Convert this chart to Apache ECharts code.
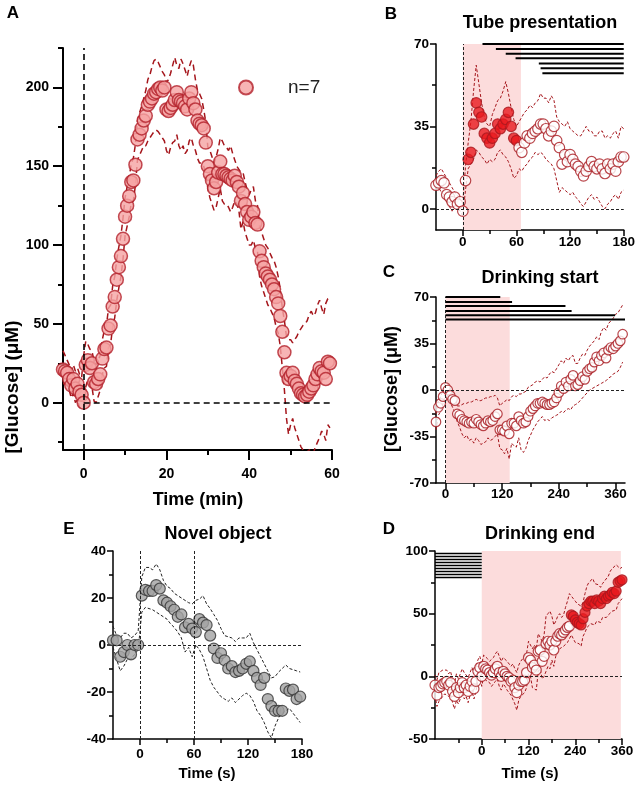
<!DOCTYPE html>
<html><head><meta charset="utf-8">
<script src="https://cdn.jsdelivr.net/npm/echarts@6/dist/echarts.min.js"></script>
<style>html,body{margin:0;padding:0;background:#fff}#c{width:638px;height:785px}</style>
</head><body><div id="c"></div>
<script>
// ---------------- DATA ----------------
// Panel A : time (min) sampled every 0.5 min from -5
const aStart = -5, aStep = 0.5;
const aMean = [21,20,19,15,11,15,9,12,7,5,
  0,24,27,22,25,13,12,15,18,28,
  34,35,47,49,61,67,78,86,93,104,
  118,125,131,140,141,151,167,170,174,179,
  182,189,191,193,196,197,199,200,198,200,
  186,185,187,189,192,197,192,191,190,188,
  186,193,197,190,186,179,177,176,174,165,
  150,145,141,136,140,146,153,145,145,144,
  143,142,141,144,140,137,128,133,126,121,
  116,118,121,114,113,96,90,86,82,80,
  78,75,72,67,63,55,45,32,19,15,
  17,19,14,12,9,6,5,4,5,7,
  9,11,15,18,22,20,19,15,26,25];
const aUpper = [33,30,27,24,20,24,20,22,18,16,
  30,39,37,34,33,26,24,27,30,40,
  46,49,60,62,74,80,91,99,106,117,
  130,137,143,152,155,164,179,184,188,193,
  198,205,208,213,217,218,216,213,210,208,
  203,205,209,214,219,214,212,218,215,211,
  207,213,217,214,205,198,196,193,186,178,
  162,160,156,152,156,161,168,166,163,162,
  160,163,158,154,150,148,146,146,140,135,
  132,135,137,128,125,112,108,104,100,98,
  95,92,90,86,80,72,60,52,42,40,
  40,38,40,42,45,47,49,50,52,56,
  58,55,57,62,65,60,56,63,66,67];
const aLower = [12,12,11,8,3,6,0,2,-3,-4,
  -3,10,15,12,10,1,0,4,8,18,
  22,23,35,37,48,54,65,73,80,91,
  106,112,118,127,128,138,154,157,160,163,
  163,166,168,170,172,173,172,170,168,166,
  160,157,162,165,166,170,163,160,163,158,
  160,166,168,163,160,155,152,152,150,145,
  136,130,126,122,124,130,136,128,126,126,
  124,121,124,128,126,122,110,115,108,104,
  100,100,103,98,96,80,74,70,66,62,
  60,57,54,48,44,36,22,8,-10,-20,
  -14,-10,-16,-20,-24,-28,-30,-32,-31,-30,
  -30,-32,-28,-25,-22,-18,-20,-24,-14,-16];
const aXTicks = [0,20,40,60], aXMinor = [10,30,50];
const aYTicks = [0,50,100,150,200], aYMinor = [-25,25,75,125,175,225];

// Panel B : Tube presentation, every 3 s from -30
const bStart = -30, bStep = 3;
const bMean = [10,11,12,11,6,5,3,5,2,3,
  -1,12,21,24,36,45,41,39,32,30,
  28,30,32,36,34,36,38,41,35,30,
  29,26,24,28,31,30,32,33,34,36,
  36,34,31,33,35,29,26,19,23,20,
  23,21,19,18,16,14,16,18,20,18,
  17,19,17,15,19,17,19,16,20,22,
  22];
const bUpper = [14,16,17,15,13,11,9,7,6,4,
  3,18,28,37,50,61,53,45,39,36,
  35,40,43,46,47,50,54,49,43,38,
  35,37,39,41,42,44,43,45,46,49,
  47,47,45,48,46,39,37,36,35,37,
  34,33,32,31,31,33,35,33,33,31,
  31,33,33,30,31,30,32,33,30,35,
  34];
const bLower = [10,9,7,6,3,1,-1,2,1,-1,
  -3,8,17,19,21,25,24,22,21,19,
  21,20,21,24,25,23,22,20,17,13,
  14,17,16,18,19,21,22,24,23,24,
  23,21,20,19,17,12,7,9,8,7,
  6,7,5,4,2,1,3,5,6,4,
  5,3,1,0,2,3,5,6,4,7,
  8];
const bSig = [6, 60];            // filled (significant) points
const bShade = [0, 65];          // tube period
const bBarStart = [22,37,48,59,85,87,89];
const bBarLevel = [70,67.9,65.9,63.9,61.7,59.7,57.6];
const bBarEnd = 180;
const bXTicks = [0,60,120,180], bXMinor = [30,90,150];
const bYTicks = [0,35,70], bYMinor = [17.5,52.5];

// Panel C : Drinking start, every 5 s from -20
const cStart = -20, cStep = 5;
const cMean = [-24,-13,-10,-5,2,0,-4,-7,-8,-18,
  -19,-22,-23,-24,-25,-24,-25,-22,-24,-26,
  -27,-25,-23,-24,-23,-20,-18,-30,-30,-31,
  -27,-33,-25,-25,-27,-20,-23,-25,-24,-20,
  -16,-14,-12,-10,-10,-9,-10,-11,-11,-10,
  -9,-6,-2,3,1,6,3,8,11,3,
  4,7,10,8,14,16,17,21,25,22,
  26,28,24,30,32,31,33,35,37,42];
const cUpper = [-18,-8,-5,0,6,4,1,-2,-5,-12,
  -12,-11,-10,-10,-9,-9,-8,-7,-8,-8,
  -7,-6,-6,-5,-5,-4,-6,-12,-10,-9,
  -7,-8,-5,-4,-5,-3,-3,-2,-1,2,
  3,4,6,7,6,8,10,9,12,14,
  13,16,19,22,20,24,22,25,26,20,
  20,24,27,26,30,33,35,37,40,38,
  44,47,45,50,52,54,57,58,61,64];
const cLower = [-30,-19,-16,-10,-3,-5,-9,-13,-17,-24,
  -28,-33,-36,-34,-38,-37,-40,-36,-38,-41,
  -40,-39,-36,-38,-37,-35,-33,-44,-45,-48,
  -44,-52,-40,-42,-43,-36,-45,-47,-44,-38,
  -34,-30,-27,-24,-22,-20,-23,-22,-23,-21,
  -20,-19,-18,-16,-17,-15,-14,-15,-12,-11,
  -10,-8,-6,-4,-2,0,1,2,3,4,
  5,6,7,9,10,12,13,14,17,21];
const cShade = [0, 136];
const cBarStart = 0;
const cBarEnd = [116,141,254,267,359,380];
const cBarLevel = [70,66.3,63.3,59.5,56.3,53];
const cXTicks = [0,120,240,360], cXMinor = [60,180,300];
const cYTicks = [-70,-35,0,35,70], cYMinor = [-52.5,-17.5,17.5,52.5];

// Panel D : Drinking end, every 5 s from -120
const dStart = -120, dStep = 5;
const dMean = [-7,-15,-9,-8,-6,-5,-4,-7,-5,-12,
  -16,-9,-13,-9,-5,-9,-7,-12,-8,-4,
  -10,-4,4,7,0,8,6,5,3,1,
  3,6,8,3,0,4,2,0,-1,-4,
  -3,-9,-13,-7,-4,-4,-3,3,15,13,
  7,9,5,20,21,12,16,26,28,25,
  28,21,28,32,34,33,35,37,39,40,
  49,48,45,43,42,41,46,51,56,58,
  60,60,58,61,60,58,62,64,62,64,
  65,67,66,68,75,76,77];
const dUpper = [1,-3,3,4,5,6,5,2,4,-3,
  -6,2,-2,2,6,3,4,-1,3,7,
  2,7,13,16,10,17,16,14,12,13,
  15,18,20,16,12,15,14,12,11,8,
  10,6,3,9,12,14,14,18,28,27,
  22,25,22,34,35,28,33,48,50,52,
  48,41,44,48,50,47,49,55,60,66,
  64,62,60,58,57,56,59,66,72,75,
  76,78,74,74,73,71,74,76,75,80,
  84,86,87,89,90,86,87];
const dLower = [-15,-24,-20,-18,-16,-14,-13,-16,-14,-21,
  -26,-19,-22,-18,-13,-18,-16,-21,-15,-12,
  -18,-12,-4,-1,-8,0,-3,-4,-5,-8,
  -7,-4,-2,-8,-11,-6,-8,-11,-12,-15,
  -15,-22,-27,-19,-16,-15,-13,-9,2,0,
  -9,-8,-11,4,6,-2,0,4,8,6,
  13,8,16,20,22,21,24,25,27,28,
  33,33,27,26,26,24,32,35,39,40,
  42,42,41,44,45,43,47,48,47,49,
  50,52,51,53,58,60,62];
const dSigFrom = 230;
const dShade = [0, 357];
const dBarStart = -120, dBarEnd = 0;
const dBarLevel = [98,95.6,93.2,90.8,88.4,86,83.6,81.2,78.8];
const dXTicks = [0,120,240,360], dXMinor = [-60,60,180,300];
const dYTicks = [-50,0,50,100], dYMinor = [-25,25,75];

// Panel E : Novel object, every 4 s from -30
const eStart = -30, eStep = 4;
const eMean = [2,2,-5,-3,0,-4,0,0,21,23.5,
  23,23,25.5,24,19,18,16.5,15,12,13,
  7.5,9,7,5.5,11,9.5,8.5,4,-1.5,-5.5,
  -3.5,-6.5,-10,-9,-11.5,-11,-10,-8,-7,-11,
  -14,-17,-14,-23,-26,-28,-28,-28,-18.5,-19.5,
  -19,-23,-22];
const eUpper = [8,4,3,5,5,3,4,6,29,33,
  33,32,34.5,32,27.5,25,24,22,21,20,
  19,18,17.5,19,19.5,21,17.5,15.5,13,10.5,
  7,4,3.5,3,1.5,3,3,3,5,1,
  -2,-5,-8,-11,-14,-13.5,-11.5,-10,-8.5,-10,
  -10.5,-11,-11.5];
const eLower = [-1,-6,-11,-9,-6,-6,-4,-2,14,16,
  15.5,15,14,13,12,11,9,7.5,5.5,3,
  -3,-1,-5,0,-2,-5,-10,-15,-18,-20,
  -22,-23,-24,-22.5,-24.5,-23,-21.5,-20.5,-21.5,-24,
  -28,-30,-33,-37,-39.5,-34.5,-31,-29,-28,-27,
  -29,-31,-33];
const eXTicks = [0,60,120,180], eXMinor = [30,90,150];
const eYTicks = [-40,-20,0,20,40], eYMinor = [-30,-10,10,30];

// ---------------- HELPERS ----------------
const FONT = "'Liberation Sans', Arial, sans-serif";
const PINK = '#fcdcdc';
const RED_EDGE = '#a8181e';
const SEM_RED = '#a5161c';
function times(start, step, n){ const t=[]; for(let i=0;i<n;i++) t.push(+(start+i*step).toFixed(3)); return t; }
function pairs(ts, vs){ return vs.map((v,i)=>[ts[i], v]); }

const aT = times(aStart, aStep, aMean.length);
const bT = times(bStart, bStep, bMean.length);
const cT = times(cStart, cStep, cMean.length);
const dT = times(dStart, dStep, dMean.length);
const eT = times(eStart, eStep, eMean.length);

const panels = [
  {grid:{left:63, top:48, width:269, height:402}, x:[-5,60], y:[-30,225], xt:aXTicks, xm:aXMinor, yt:aYTicks, ym:aYMinor, maj:10, min:5, lw:2, fs:14, xMar:17, yMar:14},
  {grid:{left:436, top:44, width:189, height:186}, x:[-30,180], y:[-9,70], xt:bXTicks, xm:bXMinor, yt:bYTicks, ym:bYMinor, maj:6, min:4, lw:1.5, fs:13.5, xMar:5, yMar:7},
  {grid:{left:436, top:297, width:189, height:186}, x:[-20,380], y:[-70,70], xt:cXTicks, xm:cXMinor, yt:cYTicks, ym:cYMinor, maj:6, min:4, lw:1.5, fs:13.5, xMar:4, yMar:7},
  {grid:{left:435, top:551, width:187, height:188}, x:[-120,360], y:[-50,100], xt:dXTicks, xm:dXMinor, yt:dYTicks, ym:dYMinor, maj:6, min:4, lw:1.5, fs:13.5, xMar:5, yMar:7},
  {grid:{left:113, top:551, width:189, height:188}, x:[-30,180], y:[-40,40], xt:eXTicks, xm:eXMinor, yt:eYTicks, ym:eYMinor, maj:6, min:4, lw:1.5, fs:13.5, xMar:8, yMar:7}
];

const grids=[], xAxes=[], yAxes=[];
panels.forEach((p,gi)=>{
  grids.push(p.grid);
  const lab = {show:true, color:'#000', fontFamily:FONT, fontWeight:'bold', fontSize:p.fs};
  xAxes.push({type:'value', gridIndex:gi, min:p.x[0], max:p.x[1], position:'bottom',
    axisLine:{show:true, onZero:false, lineStyle:{color:'#000', width:p.lw}},
    axisTick:{show:true, customValues:p.xt, length:p.maj, lineStyle:{color:'#000', width:p.lw}},
    axisLabel:Object.assign({customValues:p.xt, margin:p.xMar}, lab), splitLine:{show:false}});
  xAxes.push({type:'value', gridIndex:gi, min:p.x[0], max:p.x[1], position:'bottom',
    axisLine:{show:false, onZero:false}, axisLabel:{show:false},
    axisTick:{show:true, customValues:p.xm, length:p.min, lineStyle:{color:'#000', width:p.lw}}, splitLine:{show:false}});
  yAxes.push({type:'value', gridIndex:gi, min:p.y[0], max:p.y[1], position:'left',
    axisLine:{show:true, onZero:false, lineStyle:{color:'#000', width:p.lw}},
    axisTick:{show:true, customValues:p.yt, length:p.maj, lineStyle:{color:'#000', width:p.lw}},
    axisLabel:Object.assign({customValues:p.yt, margin:p.yMar}, lab), splitLine:{show:false}});
  yAxes.push({type:'value', gridIndex:gi, min:p.y[0], max:p.y[1], position:'left',
    axisLine:{show:false, onZero:false}, axisLabel:{show:false},
    axisTick:{show:true, customValues:p.ym, length:p.min, lineStyle:{color:'#000', width:p.lw}}, splitLine:{show:false}});
});

const series = [];
function decor(gi, shade, lines, lineStyle){
  const s = {type:'line', xAxisIndex:2*gi, yAxisIndex:2*gi, data:[[panels[gi].x[0], 0]], symbol:'none',
    lineStyle:{opacity:0}, silent:true, z:0,
    markLine:{silent:true, symbol:['none','none'], label:{show:false}, lineStyle:lineStyle, data:lines, animation:false}};
  if (shade) s.markArea = {silent:true, itemStyle:{color:PINK}, data:[[{xAxis:shade[0]},{xAxis:shade[1]}]]};
  series.push(s);
}
function dashLine(gi, ts, vs, color, width, dash){
  series.push({type:'line', xAxisIndex:2*gi, yAxisIndex:2*gi, data:pairs(ts,vs), symbol:'none', silent:true,
    clip:true, z:2, lineStyle:{color:color, width:width, type:dash}});
}
function dots(gi, data, size, name){
  series.push({type:'scatter', name:name, xAxisIndex:2*gi, yAxisIndex:2*gi, data:data, symbol:'circle', symbolSize:size, z:3,
    itemStyle:{color:'#fff', borderColor:RED_EDGE, borderWidth:1.2}});
}
function bar(gi, x0, x1, lvl, width){
  series.push({type:'line', xAxisIndex:2*gi, yAxisIndex:2*gi, data:[[x0,lvl],[x1,lvl]], symbol:'none', silent:true,
    clip:false, z:4, lineStyle:{color:'#000', width:width}});
}
const thinDash = {color:'#222', width:1, type:[3,2]};

// Panel A
decor(0, null, [{xAxis:0}, [{coord:[0,0]},{coord:[60,0]}]], {color:'#000', width:1.6, type:[6,4]});
dashLine(0, aT, aUpper, SEM_RED, 1.5, [6,4]);
dashLine(0, aT, aLower, SEM_RED, 1.5, [6,4]);
series.push({type:'scatter', name:'n=7', xAxisIndex:0, yAxisIndex:0, data:pairs(aT,aMean), symbol:'circle', symbolSize:13, z:3,
  itemStyle:{color:'#f5a3a3', borderColor:'#b3202a', borderWidth:1.5}});

// Panel B
decor(1, bShade, [{xAxis:0},{yAxis:0}], thinDash);
dashLine(1, bT, bUpper, SEM_RED, 1, [3,2]);
dashLine(1, bT, bLower, SEM_RED, 1, [3,2]);
dots(1, bMean.map((v,i)=>{ const t=bT[i]; const sig = t>=bSig[0] && t<=bSig[1];
  return sig ? {value:[t,v], itemStyle:{color:'#e8191e', borderColor:RED_EDGE}} : [t,v]; }), 10.5);
bBarStart.forEach((s,i)=>bar(1, s, bBarEnd, bBarLevel[i], 2));

// Panel C
decor(2, cShade, [{xAxis:0},{yAxis:0}], thinDash);
dashLine(2, cT, cUpper, SEM_RED, 1, [3,2]);
dashLine(2, cT, cLower, SEM_RED, 1, [3,2]);
dots(2, pairs(cT, cMean), 9.5);
cBarEnd.forEach((e,i)=>bar(2, cBarStart, e, cBarLevel[i], 2));

// Panel D
decor(3, dShade, [{yAxis:0}], thinDash);
dashLine(3, dT, dUpper, SEM_RED, 1, [3,2]);
dashLine(3, dT, dLower, SEM_RED, 1, [3,2]);
dots(3, dMean.map((v,i)=>{ const t=dT[i];
  return t>=dSigFrom ? {value:[t,v], itemStyle:{color:'#e8191e', borderColor:RED_EDGE}} : [t,v]; }), 10);
dBarLevel.forEach(l=>bar(3, dBarStart, dBarEnd, l, 1.6));

// Panel E
decor(4, null, [{xAxis:0},{xAxis:60},{yAxis:0}], thinDash);
dashLine(4, eT, eUpper, '#222', 1, [3,2]);
dashLine(4, eT, eLower, '#222', 1, [3,2]);
series.push({type:'scatter', xAxisIndex:8, yAxisIndex:8, data:pairs(eT,eMean), symbol:'circle', symbolSize:11, z:3,
  itemStyle:{color:'#a3a3a3', borderColor:'#333', borderWidth:1.2}});

function txt(text, x, y, size, opts){
  return Object.assign({type:'text', x:x, y:y, silent:true, z:10,
    style:{text:text, fill:'#000', font:'bold '+size+'px '+FONT, textAlign:'center', textVerticalAlign:'middle'}}, opts||{});
}
const graphic = [
  txt('A', 13, 13, 17), txt('B', 391, 14, 17), txt('C', 389, 272, 17), txt('D', 389, 529, 17), txt('E', 69, 529, 17),
  txt('Tube presentation', 540, 23, 18), txt('Drinking start', 540, 278, 18),
  txt('Drinking end', 540, 534, 18), txt('Novel object', 218, 534, 18),
  txt('Time (min)', 198, 500, 18), txt('Time (s)', 530, 774, 15), txt('Time (s)', 207, 774, 15),
  txt('[Glucose] (\u03bcM)', 13, 387, 19, {rotation:Math.PI/2}),
  txt('[Glucose] (\u03bcM)', 392, 389, 18, {rotation:Math.PI/2})
];

const chart = echarts.init(document.getElementById('c'), null, {renderer:'canvas'});
chart.setOption({
  animation:false, backgroundColor:'#fff',
  grid:grids, xAxis:xAxes, yAxis:yAxes,
  legend:{data:['n=7'], left:233, top:73, icon:'circle', itemWidth:14, itemHeight:14, selectedMode:false,
    textStyle:{fontFamily:FONT, fontSize:19, color:'#222', padding:[0,0,0,30]}},
  graphic:graphic, series:series
});
</script></body></html>
